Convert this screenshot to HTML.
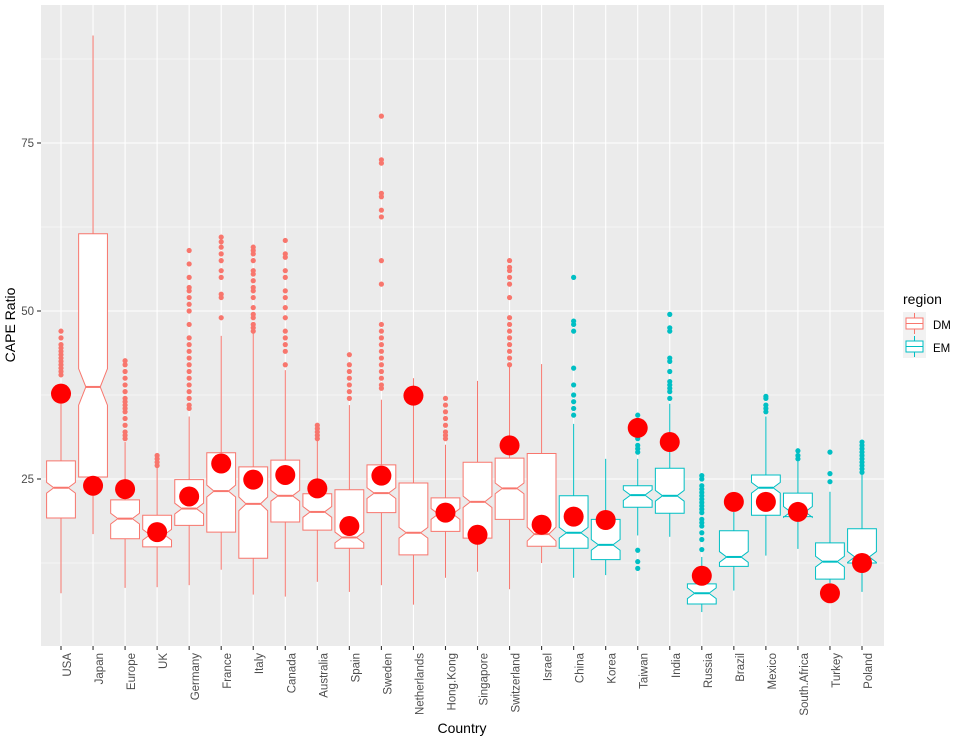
<!DOCTYPE html>
<html><head><meta charset="utf-8"><style>
html,body{margin:0;padding:0;background:#fff;}
svg text{font-family:"Liberation Sans",Arial,sans-serif;}
</style></head><body>
<svg id="chart" width="958" height="741" xmlns="http://www.w3.org/2000/svg">
<rect x="41" y="5" width="843" height="641" fill="#EBEBEB"/>
<g id="grid"></g>
<g id="boxes"></g>
<g id="axes"></g>
<text x="462" y="733" font-size="14" text-anchor="middle" fill="#000">Country</text>
<text transform="translate(15,325) rotate(-90)" font-size="14" text-anchor="middle" fill="#000">CAPE Ratio</text>
<g>
<text x="903" y="304" font-size="14" fill="#000">region</text>
<rect x="903" y="312" width="23" height="46" fill="#F2F2F2"/>
<g>
<line x1="914.5" y1="313" x2="914.5" y2="334" stroke="#F8766D"/>
<rect x="906" y="318" width="17" height="11" fill="#fff" stroke="#F8766D"/>
<line x1="906" y1="323.5" x2="923" y2="323.5" stroke="#F8766D"/>
<text x="933" y="329" font-size="11.5" fill="#000">DM</text></g>
<g>
<line x1="914.5" y1="336" x2="914.5" y2="357" stroke="#00BFC4"/>
<rect x="906" y="341" width="17" height="11" fill="#fff" stroke="#00BFC4"/>
<line x1="906" y1="346.5" x2="923" y2="346.5" stroke="#00BFC4"/>
<text x="933" y="352" font-size="11.5" fill="#000">EM</text></g>
</g>
</svg>
<script>
const countries=["USA","Japan","Europe","UK","Germany","France","Italy","Canada","Australia","Spain","Sweden","Netherlands","Hong.Kong","Singapore","Switzerland","Israel","China","Korea","Taiwan","India","Russia","Brazil","Mexico","South.Africa","Turkey","Poland"];
const regions=["DM","DM","DM","DM","DM","DM","DM","DM","DM","DM","DM","DM","DM","DM","DM","DM","EM","EM","EM","EM","EM","EM","EM","EM","EM","EM"];
const whiskerLow=[8.0,16.8,8.8,8.9,9.2,11.5,7.8,7.5,9.7,8.2,9.2,6.3,10.3,11.2,8.6,12.5,10.3,10.7,16.6,16.4,5.2,8.4,13.6,14.6,9.5,8.2];
const q1=[19.2,25.3,16.1,14.9,18.1,17.1,13.2,18.6,17.4,14.7,20.0,13.7,17.2,16.2,19.0,15.0,14.7,13.0,20.8,19.9,6.4,12.0,19.6,19.4,10.1,12.5];
const medians=[23.7,38.7,19.1,16.7,20.6,23.2,21.3,22.5,20.1,16.3,22.9,17.0,19.8,21.6,23.6,16.8,17.0,15.2,22.6,22.5,8.0,13.4,23.7,20.1,12.7,13.4];
const q3=[27.7,61.5,21.9,19.6,24.9,28.9,26.8,27.8,22.8,23.4,27.1,24.4,22.2,27.5,28.1,28.8,22.5,19.0,24.0,26.6,9.4,17.3,25.6,22.9,15.5,17.6];
const whiskerHigh=[36.8,91,30.5,28.6,34.3,46.3,47.2,41.2,30.8,36,36.8,40,30.1,39.6,41.8,42.1,33.2,28,28,36.2,13.4,20.1,34.3,27.6,23.1,25.7];
const means=[37.7,24.0,23.5,17.1,22.4,27.3,24.9,25.6,23.6,18.0,25.5,37.4,20.0,16.7,30.0,18.2,19.4,18.9,32.6,30.5,10.6,21.6,21.6,20.1,8.0,12.5];
const outliers=[
[40.5,41,41.5,42,42.5,43,43.5,44,44.5,45,46,47],
[],
[31,31.5,32,33,34,35,35.5,36,36.5,37,38,39,40,41,42,42.6],
[27,27.5,28,28.5],
[35.5,36,37,38,39,40,41,42,43,44,45,46,48,50,51,52,53,53.5,55,57,59],
[49,52,52.5,55,56,57.5,58.5,59.5,60.3,61],
[47,47.5,48,49,49.5,50.5,52,53,53.5,54.5,55.5,56,57.5,58.5,59,59.5],
[42,44,45,46,47,49,50.5,52,53,55,56,58,58.5,60.5],
[31,31.5,32,32.5,33],
[37,38,39,40,41,42,43.5],
[38.5,39,40,41,42,43,44,45,46,47,48,54,57.5,64,65,67,67.5,72,72.5,79],
[],
[31,31.5,32,33,34,35,36,37],
[],
[42,43,44,45,46,47,48,49,52,54,55,56,56.5,57.5],
[],
[34.5,35.5,36.5,37.5,39,41.5,47,48,48.5,55],
[],
[11.7,12.7,14.4,29,29.5,30,31,33,34.5],
[37,38,38.5,39,39.5,41,42.5,43,47,47.5,49.5],
[14.5,16,17,18,18.5,19,20,20.5,21,21.5,22,22.5,23,23.5,24,25,25.5],
[],
[35,35.5,36,37,37.3],
[28,28.5,29.2],
[24.6,25.8,29],
[26,26.5,27,27.5,28,28.5,29,29.5,30,30.5]];
const yTicks=[25,50,75];
const yMinor=[12.5,37.5,62.5,87.5];

const NS="http://www.w3.org/2000/svg";
const colors={DM:"#F8766D",EM:"#00BFC4"};
function y(v){return 647-v*6.72;}
function x(i){return 61+i*32.04;}
function mk(tag,attrs,parent){const e=document.createElementNS(NS,tag);for(const k in attrs)e.setAttribute(k,attrs[k]);parent.appendChild(e);return e;}
const grid=document.getElementById('grid'),boxes=document.getElementById('boxes'),axes=document.getElementById('axes');
yMinor.forEach(v=>{const l=mk('line',{x1:41,x2:884,y1:y(v),y2:y(v),stroke:'#fff','stroke-width':0.55},grid);

});
yTicks.forEach(v=>{const l=mk('line',{x1:41,x2:884,y1:y(v),y2:y(v),stroke:'#fff','stroke-width':1.1},grid);


const t=mk('line',{x1:37,x2:41,y1:y(v),y2:y(v),stroke:'#333','stroke-width':1.1},axes);


const tx=mk('text',{x:34,y:y(v)+4,'font-size':11.5,'text-anchor':'end',fill:'#4D4D4D'},axes);tx.textContent=v;

});
countries.forEach((c,i)=>{const cx=x(i);const col=colors[regions[i]];
const gl=mk('line',{x1:cx,x2:cx,y1:5,y2:646,stroke:'#fff','stroke-width':1.1},grid);


const g=mk('g',{},boxes);


mk('line',{x1:cx,x2:cx,y1:y(whiskerLow[i]),y2:y(q1[i]),stroke:col,'stroke-width':1},g);
mk('line',{x1:cx,x2:cx,y1:y(q3[i]),y2:y(whiskerHigh[i]),stroke:col,'stroke-width':1},g);
const hw=14.4,nw=7.2;const iqr=q3[i]-q1[i];const n=Math.max(0.8,iqr*0.075);
const nl=medians[i]-n,nh=medians[i]+n;
const pts=[[cx-hw,y(q1[i])],[cx-hw,y(nl)],[cx-nw,y(medians[i])],[cx-hw,y(nh)],[cx-hw,y(q3[i])],[cx+hw,y(q3[i])],[cx+hw,y(nh)],[cx+nw,y(medians[i])],[cx+hw,y(nl)],[cx+hw,y(q1[i])]];
mk('polygon',{points:pts.map(p=>p.join(',')).join(' '),fill:'#fff',stroke:col,'stroke-width':1},g);
mk('line',{x1:cx-nw,x2:cx+nw,y1:y(medians[i]),y2:y(medians[i]),stroke:col,'stroke-width':2},g);
outliers[i].forEach(v=>{const o=mk('circle',{cx:cx,cy:y(v),r:2.6,fill:col},g);

});
const m=mk('circle',{cx:cx,cy:y(means[i]),r:10,fill:'#FF0000'},boxes);


const t=mk('line',{x1:cx,x2:cx,y1:646,y2:650,stroke:'#333','stroke-width':1.1},axes);


const tx=mk('text',{transform:'translate('+(cx+10)+',653) rotate(-90)','font-size':11.5,'text-anchor':'end',fill:'#4D4D4D'},axes);tx.textContent=c;

});
</script>
</body></html>
